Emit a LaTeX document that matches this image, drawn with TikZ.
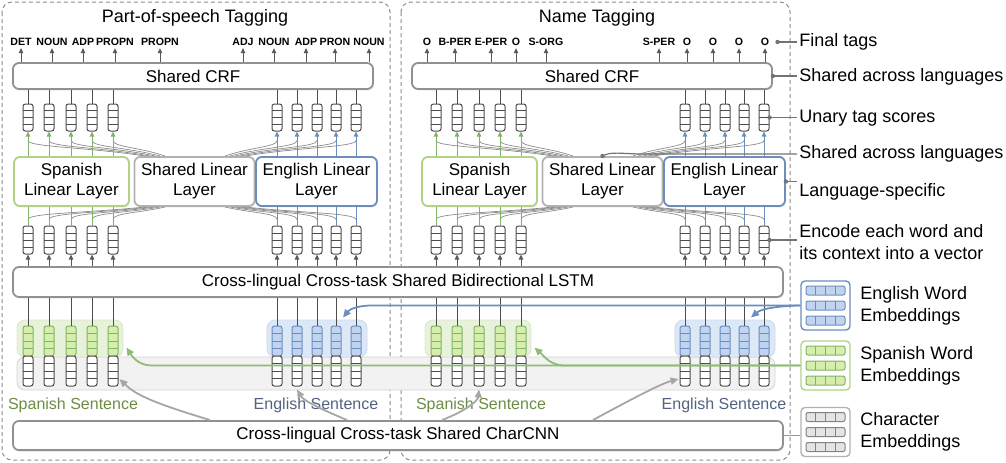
\documentclass[tikz,border=0pt]{standalone}
\usepackage{fontspec}
\setmainfont{Liberation Sans}
\usetikzlibrary{arrows.meta,positioning,calc,shadows}
\definecolor{spgreen}{RGB}{130,179,102}
\definecolor{spgreenbox}{RGB}{175,212,130}
\definecolor{spgreenfill}{RGB}{214,238,172}
\definecolor{spgreenbg}{RGB}{232,241,218}
\definecolor{spgreentext}{RGB}{108,140,68}
\definecolor{enblue}{RGB}{108,142,191}
\definecolor{enbluefill}{RGB}{192,212,240}
\definecolor{enbluebg}{RGB}{221,232,247}
\definecolor{enbluetext}{RGB}{82,98,128}
\definecolor{boxgray}{RGB}{145,145,145}
\definecolor{chgray}{RGB}{130,130,130}
\definecolor{chgrayfill}{RGB}{228,228,228}
\tikzset{cellcol/.store in=\cellcol,cellcol=black!70}

\begin{document}
\begin{tikzpicture}[x=0.5pt,y=-0.5pt,
  panel/.style={draw=black!45,dash pattern=on 2pt off 1.5pt,line width=0.5pt,rounded corners=5pt},
  title/.style={font=\fontsize{9}{11}\selectfont},
  tag/.style={font=\fontsize{5.3}{6}\selectfont\bfseries,inner sep=1pt},
  box/.style={draw=boxgray,line width=0.9pt,rounded corners=3pt,fill=white,align=center,font=\fontsize{8.5}{10}\selectfont,
    drop shadow={opacity=0.12,shadow xshift=0.6pt,shadow yshift=-0.8pt}},
  splin/.style={box,draw=spgreenbox},
  shlin/.style={box,draw=black!30},
  enlin/.style={box,draw=enblue},
  vec/.style={draw=black!70,cellcol=black!70,line width=0.5pt,fill=white,rounded corners=1.2pt,minimum width=5pt,minimum height=#1,inner sep=0pt,
    path picture={\foreach \k in {1,2,3}
      \draw[\cellcol,line width=0.4pt] ($(path picture bounding box.north west)!\k/4!(path picture bounding box.south west)$) -- ($(path picture bounding box.north east)!\k/4!(path picture bounding box.south east)$);}},
  vec/.default=14pt,
  spcell/.style={draw=spgreen,cellcol=spgreen,fill=spgreenfill},
  encell/.style={draw=enblue,cellcol=enblue,fill=enbluefill},
  spbg/.style={draw=spgreenbg!85!spgreen,fill=spgreenbg,rounded corners=4pt,line width=0.4pt},
  enbg/.style={draw=enbluebg!85!enblue,fill=enbluebg,rounded corners=4pt,line width=0.4pt},
  sentbg/.style={draw=black!17,fill=black!5,rounded corners=4pt,line width=0.4pt},
  sptext/.style={font=\fontsize{8}{10}\selectfont,text=spgreentext},
  entext/.style={font=\fontsize{8}{10}\selectfont,text=enbluetext},
  thinln/.style={draw=black!70,line width=0.5pt},
  uparr/.style={-{Triangle[length=2.5pt,width=2.2pt]},draw=black!65,line width=0.5pt},
  sparr/.style={-{Triangle[length=2.5pt,width=2.2pt]},draw=spgreen,line width=0.5pt},
  enarr/.style={-{Triangle[length=2.5pt,width=2.2pt]},draw=enblue,line width=0.5pt},
  fan/.style={draw=black!45,line width=0.35pt},
  bigsp/.style={-{Triangle[length=4pt,width=3.5pt]},draw=spgreen!90,line width=0.9pt},
  bigen/.style={-{Triangle[length=4pt,width=3.5pt]},draw=enblue,line width=0.9pt},
  bigch/.style={-{Triangle[length=4pt,width=3.5pt]},draw=black!35,line width=0.9pt},
  leg/.style={draw=black!55,line width=0.6pt},
  legtext/.style={font=\fontsize{9}{11}\selectfont,anchor=west,align=left,inner sep=1pt},
  embbox/.style={rounded corners=2pt,line width=0.7pt,minimum size=24.5pt,fill=white,inner sep=0pt}]
\useasboundingbox (0,0) rectangle (1006,462);

% two task panels
\draw[panel] (2,2) rectangle (390,460);
\draw[panel] (401,2) rectangle (790,460);
\node[title] (pos-title) at (195,18) {Part-of-speech Tagging};
\node[title] (ner-title) at (597,18) {Name Tagging};

% shared layers across both panels
\node[sentbg,minimum width=379pt,minimum height=16.5pt] (sentbg) at (396,373.5) {};
\node[box,minimum width=385pt,minimum height=15pt] (lstm) at (398,282) {Cross-lingual Cross-task Shared Bidirectional LSTM};
\node[box,minimum width=385pt,minimum height=14.5pt] (charcnn) at (398,435.5) {Cross-lingual Cross-task Shared CharCNN};

% CRF and final tags
\node[box,minimum width=180pt,minimum height=13pt] (pos-crf) at (193,76) {Shared CRF};
\node[box,minimum width=180pt,minimum height=13pt] (ner-crf) at (592,76) {Shared CRF};
\foreach \t/\x [count=\i] in {DET/21,NOUN/52,ADP/83,PROPN/115,PROPN/160,ADJ/243,NOUN/274,ADP/306,PRON/335,NOUN/369}{
  \node[tag] (pos-t\i) at (\x,42) {\t};
  \draw[uparr] (pos-t\i.south |- pos-crf.north) -- (pos-t\i.south);}
\foreach \t/\x [count=\i] in {O/427,B-PER/455,E-PER/491,O/516,S-ORG/546,S-PER/659,O/687,O/713,O/739,O/765}{
  \node[tag] (ner-t\i) at (\x,42) {\t};
  \draw[uparr] (ner-t\i.south |- ner-crf.north) -- (ner-t\i.south);}

% per panel: linear layers, vectors and fans
\foreach \p/\sh in {pos/0,ner/408}{
  \node[spbg,minimum width=53pt,minimum height=18.5pt] (\p-spbg) at (70+\sh,338.5) {};
  \node[enbg,minimum width=50pt,minimum height=18.5pt] (\p-enbg) at (317+\sh,338.5) {};
  \node[splin,minimum width=57.5pt,minimum height=21.5pt] (\p-lsp) at (71.5+\sh,181.5) {Spanish\\Linear Layer};
  \node[shlin,minimum width=57.5pt,minimum height=21.5pt] (\p-lsh) at (194.5+\sh,181.5) {Shared Linear\\Layer};
  \node[enlin,minimum width=57.5pt,minimum height=21.5pt] (\p-len) at (316.5+\sh,181.5) {English Linear\\Layer};
  \node[sptext] (\p-spsent) at (73+\sh,405) {Spanish Sentence};
  \node[entext] (\p-ensent) at (316+\sh,405) {English Sentence};
  % Spanish words
  \foreach \x [count=\i] in {28,49,71,92,113}{
    \pgfmathsetmacro\ax{\x+\sh}
    \pgfmathsetmacro\fx{\sh+140+5*\i}
    \node[vec=13.5pt] (\p-st\i) at (\ax,117.5) {};
    \node[vec] (\p-se\i) at (\ax,240) {};
    \node[vec=15pt,spcell] (\p-sw\i) at (\ax,341) {};
    \node[vec=15pt] (\p-sc\i) at (\ax,371) {};
    \draw[thinln] (\p-st\i.north) -- (\p-st\i.north |- \p-crf.south);
    \draw[uparr] (\p-se\i.south |- lstm.north) -- (\p-se\i.south);
    \draw[thinln] (\p-sw\i.north |- lstm.south) -- (\p-sw\i.north);
    \draw[fan] (\fx,0 |- \p-lsh.north) .. controls ({(\fx+\ax)/2},147) and (\ax,147) .. ([yshift=-4.5pt]\p-st\i.south);
    \draw[fan] ([yshift=3pt]\p-se\i.north) .. controls (\ax,213) and ({(\fx+\ax)/2},213) .. (\fx,0 |- \p-lsh.south);
    \draw[sparr] (\p-st\i.south |- \p-lsp.north) -- (\p-st\i.south);
    \draw[draw=spgreen,line width=0.5pt] (\p-se\i.north) -- (\p-se\i.north |- \p-lsp.south);}
  % English words
  \foreach \x [count=\i] in {277,297,317,336,356}{
    \pgfmathsetmacro\ax{\x+\sh}
    \pgfmathsetmacro\fx{\sh+220+5*\i}
    \node[vec=13.5pt] (\p-et\i) at (\ax,117.5) {};
    \node[vec] (\p-ee\i) at (\ax,240) {};
    \node[vec=15pt,encell] (\p-ew\i) at (\ax,341) {};
    \node[vec=15pt] (\p-ec\i) at (\ax,371) {};
    \draw[thinln] (\p-et\i.north) -- (\p-et\i.north |- \p-crf.south);
    \draw[uparr] (\p-ee\i.south |- lstm.north) -- (\p-ee\i.south);
    \draw[thinln] (\p-ew\i.north |- lstm.south) -- (\p-ew\i.north);
    \draw[fan] (\fx,0 |- \p-lsh.north) .. controls ({(\fx+\ax)/2},147) and (\ax,147) .. ([yshift=-4.5pt]\p-et\i.south);
    \draw[fan] ([yshift=3pt]\p-ee\i.north) .. controls (\ax,213) and ({(\fx+\ax)/2},213) .. (\fx,0 |- \p-lsh.south);
    \draw[enarr] (\p-et\i.south |- \p-len.north) -- (\p-et\i.south);
    \draw[draw=enblue,line width=0.5pt] (\p-ee\i.north) -- (\p-ee\i.north |- \p-len.south);}
}

% embedding tables
\node[embbox,draw=enblue] (engemb) at (825.5,305.5) {};
\node[embbox,draw=spgreenbox] (spaemb) at (825.5,365.5) {};
\node[embbox,draw=black!30] (chaemb) at (825.5,432) {};
\foreach \e/\c/\f in {engemb/enblue/enbluefill,spaemb/spgreen/spgreenfill,chaemb/chgray/chgrayfill}{
  \foreach \r in {-15,0,15}{
    \draw[draw=\c,fill=\f,rounded corners=1pt,line width=0.5pt] ([shift={(-19.5,\r-4.5)}]\e.center) rectangle ([shift={(19.5,\r+4.5)}]\e.center);
    \foreach \d in {-9.75,0,9.75}
      \draw[draw=\c,line width=0.5pt] ([shift={(\d,\r-4.5)}]\e.center) -- ([shift={(\d,\r+4.5)}]\e.center);}}
\node[legtext] (englab) at (858,306) {English Word\\Embeddings};
\node[legtext] (spalab) at (858,366) {Spanish Word\\Embeddings};
\node[legtext] (chalab) at (858,432) {Character\\Embeddings};

% embeddings feed the sentences
\draw[bigen] (engemb.west) -- (372,305.5) .. controls (356,305.5) and (349,310) .. ([shift={(7,-8)}]pos-ew4.north);
\draw[bigen] (engemb.west) .. controls (785,305.5) and (762,308) .. ([shift={(7,-8)}]ner-ew4.north);
\draw[bigsp] (spaemb.west) -- (152,365.5) .. controls (138,365.5) and (132,356) .. ([shift={(3,9)}]pos-spbg.east);
\draw[bigsp] (spaemb.west) -- (565,365.5) .. controls (550,365.5) and (544,356) .. ([shift={(3,9)}]ner-spbg.east);
\draw[bigch] ([xshift=-94pt]charcnn.north) .. controls (150,402) and (135,394) .. ([shift={(1,8)}]pos-sc5.east);
\draw[bigch] ([xshift=-25.5pt]charcnn.north) .. controls (318,408) and (303,400) .. ([yshift=-1.5pt]pos-ec2.south);
\draw[bigch] ([xshift=22pt]charcnn.north) .. controls (468,410) and (478,400) .. ([yshift=-1.5pt]ner-sc3.south);
\draw[bigch] ([xshift=97.5pt]charcnn.north) .. controls (630,400) and (660,384) .. ([shift={(-1,8)}]ner-ec1.west);
\draw[leg,draw=black!40] (charcnn.east) -- (charcnn.east -| chaemb.west);

% legend on the right
\node[legtext] (lab-tags) at (797,42) {Final tags};
\node[legtext] (lab-crf) at (797,77) {Shared across languages};
\node[legtext] (lab-unary) at (797,118) {Unary tag scores};
\node[legtext] (lab-shlin) at (797,154) {Shared across languages};
\node[legtext] (lab-lang) at (797,192) {Language-specific};
\node[legtext] (lab-enc) at (797,242) {Encode each word and\\its context into a vector};
\coordinate (d-tags) at ([xshift=3pt]ner-t10.east);
\coordinate (d-crf) at (ner-crf.east);
\coordinate (d-unary) at (ner-et5.east);
\coordinate (d-lang) at (ner-len.east);
\coordinate (d-enc) at (ner-ee5.east);
\foreach \d/\l in {d-tags/lab-tags,d-crf/lab-crf,d-unary/lab-unary,d-lang/lab-lang,d-enc/lab-enc}{
  \draw[leg] (\d) -- (\d -| \l.west);
  \fill[black!55] (\d) circle (1.1pt);}
\draw[leg] (ner-lsh.north) .. controls (612,151) and (620,154) .. (645,154) -- (lab-shlin.west);
\fill[black!55] (ner-lsh.north) circle (1.1pt);
\end{tikzpicture}
\end{document}
